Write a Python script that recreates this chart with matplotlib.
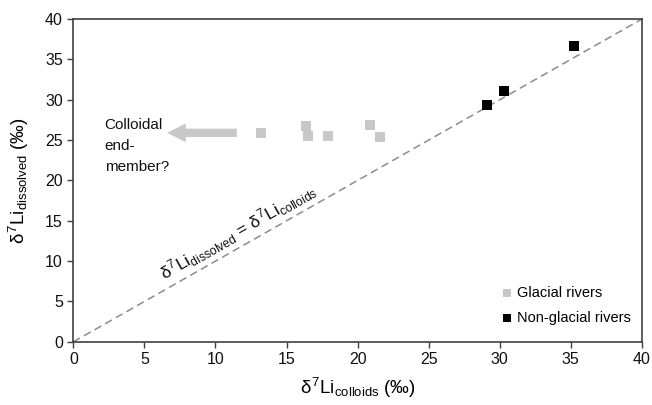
import matplotlib
matplotlib.use("Agg")
import matplotlib.pyplot as plt
from matplotlib.patches import FancyArrowPatch

plt.rcParams['font.family'] = ['Liberation Sans', 'DejaVu Sans']
plt.rcParams['mathtext.fontset'] = 'custom'
plt.rcParams['mathtext.rm'] = 'Liberation Sans'
plt.rcParams['mathtext.it'] = 'Liberation Sans'

# Data
glacial_x = [13.2, 16.4, 16.5, 17.9, 20.9, 21.6]
glacial_y = [25.9, 26.8, 25.5, 25.5, 26.9, 25.4]
nonglacial_x = [29.1, 30.3, 35.2]
nonglacial_y = [29.4, 31.1, 36.6]
ticks = [0, 5, 10, 15, 20, 25, 30, 35, 40]
arrow_start = (11.7, 25.9)
arrow_end = (6.4, 25.9)

fig = plt.figure(figsize=(6.52, 4.05), dpi=100)
ax = fig.add_axes([0.1125, 0.156, 0.872, 0.797])

spine_col = '#404040'
ax.plot([0, 40], [0, 40], ls=(0, (5, 3)), color='#8c8c8c', lw=1.1, zorder=1)
ax.scatter(glacial_x, glacial_y, marker='s', s=50, color='#c8c8c8', lw=0,
           label='Glacial rivers', zorder=3)
ax.scatter(nonglacial_x, nonglacial_y, marker='s', s=50, color='black', lw=0,
           label='Non-glacial rivers', zorder=3)

arr = FancyArrowPatch(arrow_start, arrow_end,
                      arrowstyle='simple,head_length=1.35,head_width=1.35,tail_width=0.6',
                      mutation_scale=10, color='#c8c8c8', lw=0, zorder=2)
ax.add_patch(arr)

ax.text(2.2, 24.3, 'Colloidal\nend-\nmember?', fontsize=11, ha='left',
        va='center', linespacing=1.65, color='#111111')

ax.text(11.6, 13.7, r'$\delta^7$Li$_{\mathregular{dissolved}}$ = $\delta^7$Li$_{\mathregular{colloids}}$',
        fontsize=12.5, ha='center', va='center', rotation=45,
        transform_rotates_text=True, rotation_mode='anchor', color='#111111')

ax.set_xlim(0, 40)
ax.set_ylim(0, 40)
ax.set_xticks(ticks)
ax.set_yticks(ticks)
ax.tick_params(labelsize=11.5, length=4, width=1, color=spine_col, direction='out',
               labelcolor='#111111')
for s in ax.spines.values():
    s.set_color(spine_col)
    s.set_linewidth(1.2)

ax.set_xlabel(r'$\delta^7$Li$_{\mathregular{colloids}}$ (‰)', fontsize=13.5, labelpad=6)
ax.set_ylabel(r'$\delta^7$Li$_{\mathregular{dissolved}}$ (‰)', fontsize=13.5, labelpad=10)

ax.legend(loc='lower right', bbox_to_anchor=(0.998, 0.02), frameon=False,
          fontsize=10.5, handletextpad=0.05, markerscale=0.75, borderaxespad=0.3,
          labelspacing=0.75, handlelength=1.2)

fig.savefig('out.png', dpi=100)
